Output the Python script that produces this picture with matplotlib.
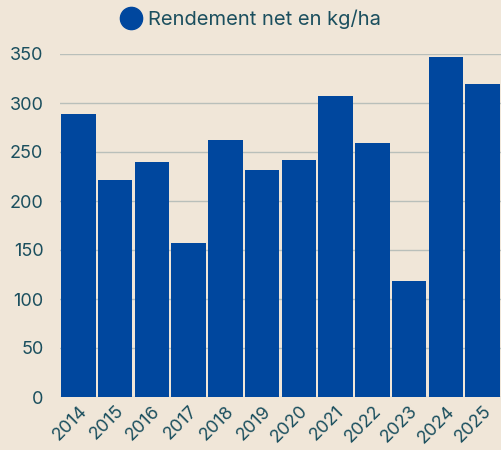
import matplotlib
matplotlib.use('Agg')
import matplotlib.pyplot as plt
from matplotlib.lines import Line2D

# data
years = ['2014', '2015', '2016', '2017', '2018', '2019',
         '2020', '2021', '2022', '2023', '2024', '2025']
rendement = [289, 221, 240, 157, 262, 232, 242, 307, 259, 118, 347, 319]
yticks = [0, 50, 100, 150, 200, 250, 300, 350]

bg = '#f0e6d8'
bar_col = '#00479e'
txt_col = '#1b4f5e'

plt.rcParams['font.family'] = ['Inter', 'DejaVu Sans']

fig = plt.figure(figsize=(5.01, 4.5), dpi=100)
fig.patch.set_facecolor(bg)
ax = fig.add_axes([60/501, 1-397/450, 1-60/501, (397-54)/450])
ax.set_facecolor(bg)

x = range(len(years))
ax.bar(x, rendement, width=0.94, color=bar_col, zorder=3)
ax.set_xlim(-0.5, len(years)-0.5)
ax.set_ylim(0, 350)
ax.set_yticks(yticks)
ax.grid(axis='y', color='#b9bfba', linewidth=1, zorder=0)
ax.set_axisbelow(True)
for s in ax.spines.values():
    s.set_visible(False)
ax.tick_params(length=0, colors=txt_col, labelsize=13)
ax.tick_params(axis='y', pad=12)
ax.set_xticks(list(x))
ax.set_xticklabels(years, rotation=45, ha='right', rotation_mode='anchor')
ax.tick_params(axis='x', pad=4)

h = Line2D([], [], marker='o', linestyle='none', color=bar_col, markersize=16)
fig.legend([h], ['Rendement net en kg/ha'], loc='center', bbox_to_anchor=(0.5, 1-19/450),
           frameon=False, fontsize=14.5, labelcolor=txt_col, handletextpad=0.35,
           borderaxespad=0, handlelength=1)

fig.savefig('out.png', dpi=100, facecolor=bg)
